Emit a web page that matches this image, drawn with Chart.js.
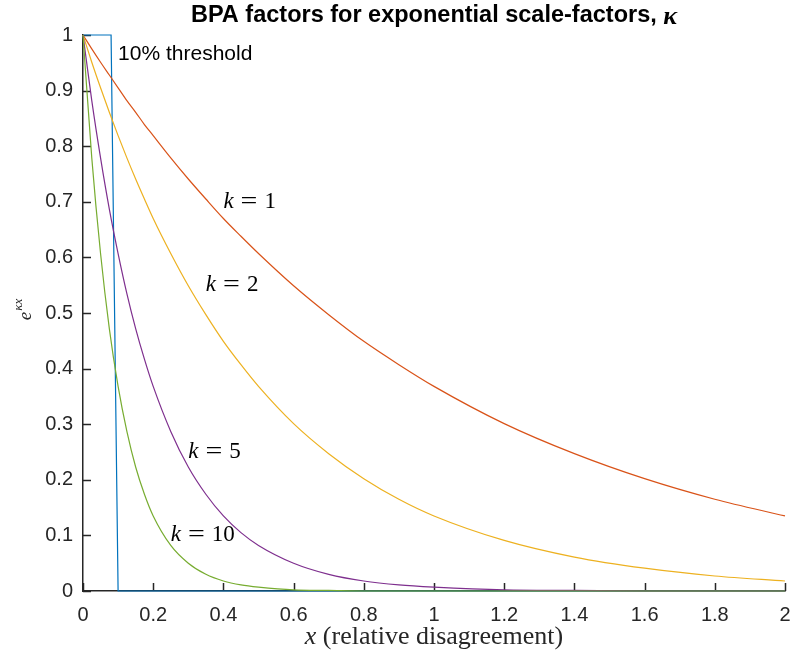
<!DOCTYPE html>
<html>
<head>
<meta charset="utf-8">
<script src="https://cdn.jsdelivr.net/npm/chart.js@4.4.1/dist/chart.umd.min.js"></script>
<style>
  html, body { margin: 0; padding: 0; background: #ffffff; }
  #wrap { width: 791px; height: 655px; }
</style>
</head>
<body>
<div id="wrap"><canvas id="chart" width="791" height="655"></canvas></div>
<script>
// Sample positions along the relative-disagreement axis
const xValues = [0, 0.025, 0.05, 0.075, 0.1, 0.125, 0.15, 0.175, 0.2, 0.25, 0.3, 0.35, 0.4,
                 0.45, 0.5, 0.6, 0.7, 0.8, 0.9, 1.0, 1.2, 1.4, 1.6, 1.8, 2.0];

// BPA factor for each scale-factor
const factorK1 = [1.000, 0.975, 0.951, 0.928, 0.905, 0.882, 0.861, 0.839, 0.819, 0.779, 0.741, 0.705, 0.670,
                  0.638, 0.607, 0.549, 0.497, 0.449, 0.407, 0.368, 0.301, 0.247, 0.202, 0.165, 0.135];
const factorK2 = [1.000, 0.951, 0.905, 0.861, 0.819, 0.779, 0.741, 0.705, 0.670, 0.607, 0.549, 0.497, 0.449,
                  0.407, 0.368, 0.301, 0.247, 0.202, 0.165, 0.135, 0.091, 0.061, 0.041, 0.027, 0.018];
const factorK5 = [1.000, 0.882, 0.779, 0.687, 0.607, 0.535, 0.472, 0.417, 0.368, 0.287, 0.223, 0.174, 0.135,
                  0.105, 0.082, 0.050, 0.030, 0.018, 0.011, 0.007, 0.002, 0.001, 0.000, 0.000, 0.000];
const factorK10 = [1.000, 0.779, 0.607, 0.472, 0.368, 0.287, 0.223, 0.174, 0.135, 0.082, 0.050, 0.030, 0.018,
                   0.011, 0.007, 0.002, 0.001, 0.000, 0.000, 0.000, 0.000, 0.000, 0.000, 0.000, 0.000];

// 10% threshold step
const thresholdX = [0, 0.08, 0.1, 2];
const thresholdY = [1, 1, 0, 0];

// Curve labels: scale-factor and where its label sits (data units)
const curveK = ['1', '2', '5', '10'];
const curveLabelX = [0.40, 0.35, 0.30, 0.25];
const curveLabelY = [0.70, 0.55, 0.25, 0.10];

// Axis ticks
const xTicks = [0, 0.2, 0.4, 0.6, 0.8, 1, 1.2, 1.4, 1.6, 1.8, 2];
const yTicks = [0, 0.1, 0.2, 0.3, 0.4, 0.5, 0.6, 0.7, 0.8, 0.9, 1];

const SANS = '"Liberation Sans", Arial, Helvetica, sans-serif';
const SERIF = '"Liberation Serif", "Times New Roman", serif';
const AXIS_COLOR = '#262626';

const pts = (xs, ys) => xs.map((x, i) => ({ x: x, y: ys[i] }));

const curveStyle = (label, color, ys, order) => ({
  label: label,
  data: pts(xValues, ys),
  borderColor: color,
  borderWidth: 1.2,
  pointRadius: 0,
  fill: false,
  cubicInterpolationMode: 'monotone',
  order: order,
  clip: 4
});

// Inward tick marks, drawn under the data lines
const inwardTicks = {
  id: 'inwardTicks',
  beforeDatasetsDraw(chart) {
    const { ctx, chartArea, scales } = chart;
    ctx.save();
    ctx.strokeStyle = AXIS_COLOR;
    ctx.lineWidth = 1.5;
    ctx.beginPath();
    xTicks.forEach(v => {
      const px = Math.round(scales.x.getPixelForValue(v)) + 0.5;
      ctx.moveTo(px, chartArea.bottom);
      ctx.lineTo(px, chartArea.bottom - 8);
    });
    yTicks.forEach(v => {
      const py = Math.round(scales.y.getPixelForValue(v)) + 0.5;
      ctx.moveTo(chartArea.left, py);
      ctx.lineTo(chartArea.left + 8, py);
    });
    ctx.stroke();
    ctx.restore();
  }
};

// Title, axis labels and in-plot annotations
const textLayer = {
  id: 'textLayer',
  afterDatasetsDraw(chart) {
    const { ctx, chartArea, scales } = chart;
    const cx = (chartArea.left + chartArea.right) / 2;
    ctx.save();
    ctx.textBaseline = 'middle';
    ctx.textAlign = 'left';

    // Title with bold italic kappa
    const t1 = 'BPA factors for exponential scale-factors, ';
    const t2 = '\u03BA';
    ctx.fillStyle = '#000000';
    ctx.font = 'bold 23.5px ' + SANS;
    const w1 = ctx.measureText(t1).width;
    ctx.font = 'italic bold 26px ' + SERIF;
    const w2 = ctx.measureText(t2).width;
    const tx = cx - (w1 + w2) / 2;
    ctx.font = 'bold 23.5px ' + SANS;
    ctx.fillText(t1, tx, 16);
    ctx.font = 'italic bold 26px ' + SERIF;
    ctx.fillText(t2, tx + w1, 17);

    // Threshold annotation
    ctx.font = '21px ' + SANS;
    ctx.fillText('10% threshold', scales.x.getPixelForValue(0.1), scales.y.getPixelForValue(0.965));

    // Curve annotations: k = n
    curveK.forEach((k, i) => {
      let x = scales.x.getPixelForValue(curveLabelX[i]);
      const y = scales.y.getPixelForValue(curveLabelY[i]);
      ctx.font = 'italic 23px ' + SERIF;
      ctx.fillText('k', x, y);
      x += ctx.measureText('k').width + 7;
      ctx.font = '23px ' + SERIF;
      ctx.save();
      ctx.translate(x, y);
      ctx.scale(1.3, 1);
      ctx.fillText('=', 0, 0);
      ctx.restore();
      x += ctx.measureText('=').width * 1.3 + 7;
      ctx.fillText(k, x, y);
    });

    // x-axis label
    ctx.fillStyle = AXIS_COLOR;
    const xa = 'x';
    const xb = ' (relative disagreement)';
    ctx.font = 'italic 26px ' + SERIF;
    const wa = ctx.measureText(xa).width;
    ctx.font = '26px ' + SERIF;
    const wb = ctx.measureText(xb).width;
    const lx = cx - (wa + wb) / 2;
    ctx.font = 'italic 26px ' + SERIF;
    ctx.fillText(xa, lx, 637);
    ctx.font = '26px ' + SERIF;
    ctx.fillText(xb, lx + wa, 637);

    // y-axis label e^{kappa x}, rotated
    const cy = (chartArea.top + chartArea.bottom) / 2;
    ctx.translate(24, cy - 3);
    ctx.rotate(-Math.PI / 2);
    ctx.font = 'italic 19px ' + SERIF;
    const we = ctx.measureText('e').width;
    ctx.font = 'italic 13px ' + SERIF;
    const ws = ctx.measureText('\u03BAx').width;
    const sx = -(we + ws) / 2;
    ctx.font = 'italic 19px ' + SERIF;
    ctx.fillText('e', sx, 2);
    ctx.font = 'italic 13px ' + SERIF;
    ctx.fillText('\u03BAx', sx + we + 1, -5);
    ctx.restore();
  }
};

new Chart(document.getElementById('chart'), {
  type: 'line',
  data: {
    datasets: [
      {
        label: '10% threshold',
        data: pts(thresholdX, thresholdY),
        borderColor: '#0072BD',
        borderWidth: 1.2,
        pointRadius: 0,
        fill: false,
        tension: 0,
        order: 4,
        clip: 4
      },
      curveStyle('k = 1', '#D95319', factorK1, 3),
      curveStyle('k = 2', '#EDB120', factorK2, 2),
      curveStyle('k = 5', '#7E2F8E', factorK5, 1),
      curveStyle('k = 10', '#77AC30', factorK10, 0)
    ]
  },
  options: {
    responsive: false,
    devicePixelRatio: 1,
    animation: false,
    events: [],
    layout: { padding: { left: 0, top: 35, right: 6, bottom: 0 } },
    plugins: {
      legend: { display: false },
      title: { display: false },
      tooltip: { enabled: false }
    },
    scales: {
      x: {
        type: 'linear',
        min: 0,
        max: 2,
        afterBuildTicks: s => { s.ticks = xTicks.map(v => ({ value: v })); },
        afterFit: s => { s.height = 64; s.paddingLeft = 0; s.paddingRight = 0; },
        ticks: {
          color: AXIS_COLOR,
          font: { family: SANS, size: 20 },
          padding: 12,
          maxRotation: 0,
          autoSkip: false,
          callback: v => String(v)
        },
        grid: { drawOnChartArea: false, drawTicks: false },
        border: { display: true, color: AXIS_COLOR, width: 1.5 }
      },
      y: {
        type: 'linear',
        min: 0,
        max: 1,
        afterBuildTicks: s => { s.ticks = yTicks.map(v => ({ value: v })); },
        afterFit: s => { s.width = 83; s.paddingTop = 0; s.paddingBottom = 0; },
        ticks: {
          color: AXIS_COLOR,
          font: { family: SANS, size: 20 },
          padding: 10,
          autoSkip: false,
          callback: v => String(v)
        },
        grid: { drawOnChartArea: false, drawTicks: false },
        border: { display: true, color: AXIS_COLOR, width: 1.5 }
      }
    }
  },
  plugins: [inwardTicks, textLayer]
});
</script>
</body>
</html>
